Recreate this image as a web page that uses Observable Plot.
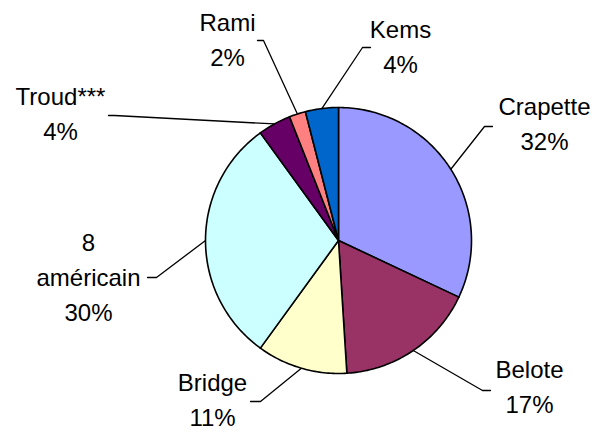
<!DOCTYPE html>
<html>
<head>
<meta charset="utf-8">
<script src="https://cdn.jsdelivr.net/npm/d3@7"></script>
<script src="https://cdn.jsdelivr.net/npm/@observablehq/plot@0.6"></script>
<style>
  html, body { margin: 0; padding: 0; background: #ffffff; }
  #chart svg { display: block; }
</style>
</head>
<body>
<div id="chart"></div>
<script>
// ---- Data ----
const categories = ["Crapette", "Belote", "Bridge", "8 américain", "Troud***", "Rami", "Kems"];
const values = [32, 17, 11, 30, 4, 2, 4];
const colors = ["#9999FF", "#993366", "#FFFFCC", "#CCFFFF", "#660066", "#FF8080", "#0066CC"];

// ---- Layout (positions, not data) ----
const W = 594, H = 433;
const cx = 338, cy = 240, R = 133;
const labelLayout = {
  "Crapette":    {x: 544, y: 90,  elbow: [[492, 126], [484, 126]]},
  "Belote":      {x: 529, y: 353, elbow: [[490, 390], [482, 390]]},
  "Bridge":      {x: 212, y: 366, elbow: [[250, 401], [260, 401]]},
  "8 américain": {x: 88,  y: 226, elbow: [[147, 277], [156, 277]]},
  "Troud***":    {x: 60,  y: 80,  elbow: [[108, 115], [114, 115]]},
  "Rami":        {x: 227, y: 6,   elbow: [[257, 40], [263, 40]]},
  "Kems":        {x: 400, y: 13,  elbow: [[370, 47], [362, 47]]}
};

const arcs = d3.pie().sort(null).value(d => d)(values);
const pt = (a, r) => [cx + r * Math.sin(a), cy - r * Math.cos(a)];

// slice polygons
const slicePts = [];
arcs.forEach((a, i) => {
  const name = categories[i];
  slicePts.push({name, x: cx, y: cy});
  const n = Math.max(2, Math.ceil((a.endAngle - a.startAngle) / (Math.PI / 180)));
  for (let k = 0; k <= n; k++) {
    const t = a.startAngle + (a.endAngle - a.startAngle) * k / n;
    const [x, y] = pt(t, R);
    slicePts.push({name, x, y});
  }
});

// leader lines
const leaderPts = [];
arcs.forEach((a, i) => {
  const name = categories[i];
  const L = labelLayout[name];
  L.elbow.forEach(([x, y]) => leaderPts.push({name, x, y}));
  const [ex, ey] = pt((a.startAngle + a.endAngle) / 2, R);
  leaderPts.push({name, x: ex, y: ey});
});

// labels
const labels = categories.map((name, i) => ({
  x: labelLayout[name].x,
  y: labelLayout[name].y,
  text: name.replace(" ", "\n") + "\n" + values[i] + "%"
}));

const chart = Plot.plot({
  width: W,
  height: H,
  margin: 0,
  style: {background: "#ffffff"},
  x: {domain: [0, W], range: [0, W], axis: null},
  y: {domain: [0, H], range: [0, H], axis: null},
  color: {domain: categories, range: colors},
  marks: [
    Plot.line(leaderPts, {x: "x", y: "y", z: "name", stroke: "black", strokeWidth: 1.3, curve: "linear"}),
    Plot.line(slicePts, {x: "x", y: "y", z: "name", fill: "name", stroke: "black", strokeWidth: 1.6, strokeLinejoin: "round", curve: "linear-closed"}),
    Plot.text(labels, {
      x: "x", y: "y", text: "text",
      textAnchor: "middle", lineAnchor: "top", lineHeight: 1.46,
      fontSize: 24, fontFamily: "Liberation Sans, Arial, sans-serif", fill: "black"
    })
  ]
});
document.getElementById("chart").appendChild(chart);
</script>
</body>
</html>
